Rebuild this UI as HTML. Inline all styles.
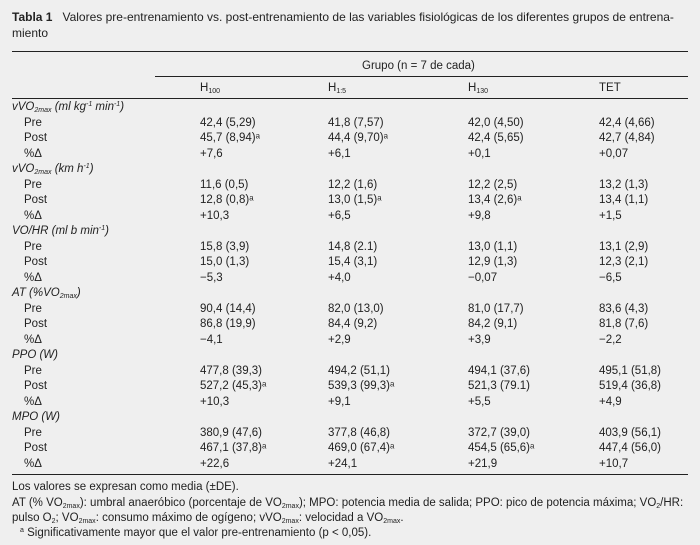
<!DOCTYPE html>
<html><head><meta charset="utf-8">
<style>
body{margin:0;width:700px;height:545px;background:#efefef;font-family:"Liberation Sans",sans-serif;font-size:11.5px;color:#222;position:relative;overflow:hidden}
.t{position:absolute;white-space:nowrap;line-height:12px}
.hl{position:absolute;height:1px;background:#222}
i{font-style:italic}
sub{font-size:7px;vertical-align:-2px;line-height:0}
sup{font-size:7px;vertical-align:4px;line-height:0}
</style></head><body>
<div class="t" style="left:12px;top:11px;font-size:12px"><b>Tabla 1</b>&nbsp;&nbsp; Valores pre-entrenamiento vs. post-entrenamiento de las variables fisiológicas de los diferentes grupos de entrena-</div>
<div class="t" style="left:12px;top:27px;font-size:12px">miento</div>
<div class="hl" style="left:12px;width:676px;top:51px"></div>
<div class="t" style="left:362px;top:60px">Grupo (n = 7 de cada)</div>
<div class="hl" style="left:155px;width:533px;top:76px"></div>
<div class="t" style="left:200px;top:82px">H<sub>100</sub></div>
<div class="t" style="left:328px;top:82px">H<sub>1:5</sub></div>
<div class="t" style="left:468px;top:82px">H<sub>130</sub></div>
<div class="t" style="left:599px;top:82px">TET</div>
<div class="hl" style="left:12px;width:676px;top:98px"></div>
<div id="rows"></div>
<div class="hl" style="left:12px;width:676px;top:474px"></div>
<div class="t" style="left:12px;top:481px">Los valores se expresan como media (±DE).</div>
<div class="t" style="left:12px;top:497px">AT (% VO<sub>2max</sub>): umbral anaeróbico (porcentaje de VO<sub>2max</sub>); MPO: potencia media de salida; PPO: pico de potencia máxima; VO<sub>2</sub>/HR:</div>
<div class="t" style="left:12px;top:512px">pulso O<sub>2</sub>; VO<sub>2max</sub>: consumo máximo de ogígeno; vVO<sub>2max</sub>: velocidad a VO<sub>2max</sub>.</div>
<div class="t" style="left:20px;top:527px"><sup>a</sup> Significativamente mayor que el valor pre-entrenamiento (p &lt; 0,05).</div>
<script>
const sections=['<i>vVO<sub>2max</sub> (ml kg<sup>-1</sup> min<sup>-1</sup>)</i>','<i>vVO<sub>2max</sub> (km h<sup>-1</sup>)</i>','<i>VO/HR (ml b min<sup>-1</sup>)</i>','<i>AT (%VO<sub>2max</sub>)</i>','<i>PPO (W)</i>','<i>MPO (W)</i>'];
const rowLabels=['Pre','Post','%Δ'];
const vals=[
[['42,4 (5,29)','41,8 (7,57)','42,0 (4,50)','42,4 (4,66)'],['45,7 (8,94)ᵃ','44,4 (9,70)ᵃ','42,4 (5,65)','42,7 (4,84)'],['+7,6','+6,1','+0,1','+0,07']],
[['11,6 (0,5)','12,2 (1,6)','12,2 (2,5)','13,2 (1,3)'],['12,8 (0,8)ᵃ','13,0 (1,5)ᵃ','13,4 (2,6)ᵃ','13,4 (1,1)'],['+10,3','+6,5','+9,8','+1,5']],
[['15,8 (3,9)','14,8 (2.1)','13,0 (1,1)','13,1 (2,9)'],['15,0 (1,3)','15,4 (3,1)','12,9 (1,3)','12,3 (2,1)'],['−5,3','+4,0','−0,07','−6,5']],
[['90,4 (14,4)','82,0 (13,0)','81,0 (17,7)','83,6 (4,3)'],['86,8 (19,9)','84,4 (9,2)','84,2 (9,1)','81,8 (7,6)'],['−4,1','+2,9','+3,9','−2,2']],
[['477,8 (39,3)','494,2 (51,1)','494,1 (37,6)','495,1 (51,8)'],['527,2 (45,3)ᵃ','539,3 (99,3)ᵃ','521,3 (79.1)','519,4 (36,8)'],['+10,3','+9,1','+5,5','+4,9']],
[['380,9 (47,6)','377,8 (46,8)','372,7 (39,0)','403,9 (56,1)'],['467,1 (37,8)ᵃ','469,0 (67,4)ᵃ','454,5 (65,6)ᵃ','447,4 (56,0)'],['+22,6','+24,1','+21,9','+10,7']]];
const colX=[200,328,468,599];
const root=document.getElementById('rows');
function add(html,x,y,name){const d=document.createElement('div');d.className='t';d.style.left=x+'px';d.style.top=y+'px';d.innerHTML=html;


root.appendChild(d);}
const step=15.5;
sections.forEach((s,si)=>{
 const y0=101+si*4*step;
 add(s,12,y0,'section-label');
 rowLabels.forEach((r,ri)=>{
  const y=y0+(ri+1)*step;
  add(r,24,y,'row-label');
  vals[si][ri].forEach((v,ci)=>add(v,colX[ci],y,'cell-value'));
 });
});
</script>
</body></html>
